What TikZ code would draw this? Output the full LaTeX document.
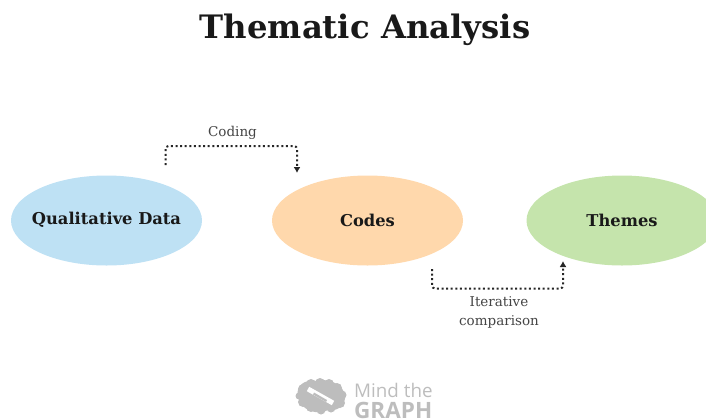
\documentclass[tikz,border=0pt]{standalone}
\usepackage{fontspec}
\setmainfont{DejaVu Serif}
\newfontfamily\logofont{Open Sans}
\usetikzlibrary{arrows.meta,shapes.geometric}
\definecolor{bluefill}{HTML}{BEE1F4}
\definecolor{orangefill}{HTML}{FFD8AC}
\definecolor{greenfill}{HTML}{C5E4AC}
\definecolor{logogray}{HTML}{BDBDBD}
\definecolor{labelgray}{HTML}{444444}
\tikzset{
  blob/.style={ellipse,minimum width=191pt,minimum height=90pt,inner sep=0pt,text=black!90},
  blobtext/.style={font=\bfseries\fontsize{16.3}{19}\selectfont,text=black!90,inner sep=0pt},
  loop/.style={line width=2pt,dash pattern=on 2pt off 2.6pt,rounded corners=3pt,-{Latex[length=6pt,width=7pt]},black!85},
  tag/.style={font=\fontsize{13.5}{19}\selectfont,text=labelgray,align=center,inner sep=0pt},
  bump/.style={fill=logogray,draw=none}
}
\begin{document}
\begin{tikzpicture}[x=1pt,y=-1pt]
\useasboundingbox (0,0) rectangle (706,418);
\clip (0,0) rectangle (706,418);
\node[font=\bfseries\fontsize{32.3}{36}\selectfont,text=black!90,inner sep=0pt] (title) at (365,30) {Thematic Analysis};
\node[blob,fill=bluefill] (data) at (106.5,220.5) {};
\node[blobtext] (datal) at (106.5,220) {Qualitative Data};
\node[blob,fill=orangefill] (codes) at (367.5,220.5) {};
\node[blobtext] (codesl) at (367.5,220) {Codes};
\node[blob,fill=greenfill] (themes) at (622,220.5) {};
\node[blobtext] (themesl) at (622,220) {Themes};
\coordinate (c1) at (165.5,165);
\coordinate (c2) at (297,173);
\coordinate (i1) at (432,269);
\coordinate (i2) at (563,261);
\draw[loop] (c1) -- (165.5,146) -- (297,146) -- (c2);
\draw[loop] (i1) -- (432,288.5) -- (563,288.5) -- (i2);
\node[tag] (coding) at (232.5,133) {Coding};
\node[tag] (iter) at (499,312) {Iterative\\comparison};
% logo
\fill[bump] (298,397) .. controls (295,386) and (305,379) .. (315,381)
  .. controls (325,378) and (340,382) .. (344,392)
  .. controls (348,402) and (340,412) .. (328,410)
  .. controls (318,416) and (300,410) .. (298,397) -- cycle;
\foreach \bx/\by/\br in {303/389/5,311/384/5,320/383/5,329/384/5,337/388/5,342/395/4.5,340/403/5,331/408/4.5,321/410/4.5,311/407/5,303/402/5,299/396/3.5}
  \fill[bump] (\bx,\by) circle (\br pt);
\draw[white,line width=5pt] (308,389) -- (333,403);
\fill[logogray] (314,392.5) -- (327,400) -- (326,402) -- (313,394.5) -- cycle;
\node[font=\logofont\fontsize{18.8}{21}\selectfont,text=logogray,anchor=west,inner sep=0pt] (mind) at (354,390) {Mind the};
\node[font=\logofont\bfseries\fontsize{22.5}{24}\selectfont,text=logogray,anchor=west,inner sep=0pt] (graph) at (354,410) {GRAPH};
\end{tikzpicture}
\end{document}
